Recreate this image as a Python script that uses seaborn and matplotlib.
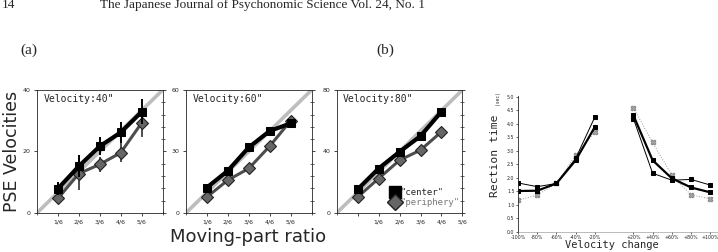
import matplotlib
matplotlib.use('Agg')
import matplotlib.pyplot as plt
import seaborn as sns
from matplotlib.lines import Line2D
from matplotlib.ticker import MultipleLocator, FixedLocator

# (a) PSE velocities vs moving-part ratio
ratio = [1/6, 2/6, 3/6, 4/6, 5/6]
ratio_labels = ['1/6', '2/6', '3/6', '4/6', '5/6']
velocities = [40, 60, 80]
center_40 = [7.9, 15.2, 21.7, 26.2, 32.9]
periph_40 = [4.7, 12.8, 15.8, 19.6, 29.3]
center_40_err = [2.2, 3.5, 3.0, 3.3, 4.0]
periph_40_err = [1.5, 5.5, 2.5, 3.0, 4.6]
center_60 = [12.4, 20.6, 32.0, 40.0, 43.7]
periph_60 = [7.8, 16.0, 21.7, 32.6, 45.0]
center_80 = [15.4, 28.9, 39.8, 50.0, 65.9]
periph_80 = [10.4, 22.4, 34.3, 40.9, 52.8]

# (b) reaction time vs velocity change
change_neg = [-100, -80, -60, -40, -20]
change_pos = [20, 40, 60, 80, 100]
change_labels = ['-100%', '-80%', '-60%', '-40%', '-20%', '+20%', '+40%', '+60%', '+80%', '+100%']
rt_thick_neg = [1.51, 1.52, 1.79, 2.65, 3.89]
rt_thick_pos = [4.32, 2.65, 1.98, 1.64, 1.46]
rt_thin_neg = [1.81, 1.67, 1.79, 2.72, 4.26]
rt_thin_pos = [4.20, 2.17, 1.91, 1.94, 1.73]
rt_gray_neg = [1.17, 1.36, 1.79, 2.84, 3.70]
rt_gray_pos = [4.60, 3.31, 2.10, 1.36, 1.23]

sns.set_style('ticks')
plt.rcParams['font.family'] = ['DejaVu Sans']
mono = 'DejaVu Sans Mono'
serif = 'Liberation Serif'

fig = plt.figure(figsize=(7.18, 2.52), dpi=100)

# header of the journal page (cut at the top, as in the scan)
fig.text(0.003, 0.982, '14', fontsize=9.5, family=serif, va='center')
fig.text(0.366, 0.982, 'The Japanese Journal of Psychonomic Science Vol. 24, No. 1',
         fontsize=9.5, family=serif, va='center', ha='center')
fig.text(0.040, 0.80, '(a)', fontsize=11, family=serif, ha='center', va='center')
fig.text(0.536, 0.80, '(b)', fontsize=11, family=serif, ha='center', va='center')

lefts = [0.0515, 0.259, 0.469]
centers = [center_40, center_60, center_80]
periphs = [periph_40, periph_60, periph_80]
gray = '#4d4d4d'

for i, v in enumerate(velocities):
    ax = fig.add_axes([lefts[i], 0.155, 0.175, 0.488])
    ax.axline((0, 0), slope=v, color='#bdbdbd', lw=2.6, zorder=1)
    if i == 0:
        ax.errorbar(ratio, center_40, yerr=center_40_err, fmt='none',
                    ecolor='black', elinewidth=1.4, capsize=0, zorder=3)
        ax.errorbar(ratio, periph_40, yerr=periph_40_err, fmt='none',
                    ecolor=gray, elinewidth=1.4, capsize=0, zorder=2)
    sns.lineplot(x=ratio, y=periphs[i], ax=ax, color=gray, lw=2.2,
                 marker='D', ms=6, mfc='#666666', mec='#222222', mew=0.8, zorder=2)
    sns.lineplot(x=ratio, y=centers[i], ax=ax, color='black', lw=3,
                 marker='s', ms=6, mfc='black', mec='black', zorder=3)
    ax.set_xlim(0, 1)
    ax.set_ylim(0, v)
    ax.set_yticks([0, v / 2, v])
    ax.set_yticklabels([0, int(v / 2), v])
    ax.yaxis.set_minor_locator(MultipleLocator(v / 10))
    if i < 2:
        ax.set_xticks(ratio)
        ax.set_xticklabels(ratio_labels)
    else:
        # the third panel's labels sit one step to the right
        ax.set_xticks(ratio + [1.0])
        ax.set_xticklabels([''] + ratio_labels)
    ax.xaxis.set_minor_locator(FixedLocator([0, 1]))
    ax.tick_params(which='major', labelsize=4.5, length=2.5, width=0.6,
                   right=True, direction='out', pad=2)
    ax.tick_params(which='minor', left=False, right=True, bottom=True,
                   length=2.5, width=0.5, direction='inout')
    for s in ax.spines.values():
        s.set_linewidth(0.6)
    ax.text(0.05, 0.97, f'Velocity:{v}"', transform=ax.transAxes,
            fontsize=7, family=mono, va='top', ha='left')
    ax.set_xlabel('')
    ax.set_ylabel('')
    if i == 2:
        handles = [Line2D([], [], ls='none', marker='s', ms=8, color='black'),
                   Line2D([], [], ls='none', marker='D', ms=8, mfc='#666666',
                          mec='#222222')]
        leg = ax.legend(handles, ['"center"', '"periphery"'], loc='lower right',
                        bbox_to_anchor=(1.04, -0.02), frameon=False,
                        handlelength=0.8, handletextpad=0.2, labelspacing=0.15,
                        prop={'family': mono, 'size': 6.5})
        leg.get_texts()[1].set_color('#777777')

fig.text(0.017, 0.40, 'PSE Velocities', rotation=90, fontsize=12.5,
         ha='center', va='center')
fig.text(0.346, 0.06, 'Moving-part ratio', fontsize=13, ha='center', va='center')

# (b)
axb = fig.add_axes([0.7214, 0.0806, 0.2786, 0.54])
for xs, ys in [(change_neg, rt_gray_neg), (change_pos, rt_gray_pos)]:
    sns.lineplot(x=xs, y=ys, ax=axb, color='#999999', lw=0.7, ls=':',
                 marker='X', ms=3.5, mfc='#aaaaaa', mec='#888888')
for xs, ys in [(change_neg, rt_thin_neg), (change_pos, rt_thin_pos)]:
    sns.lineplot(x=xs, y=ys, ax=axb, color='black', lw=0.7,
                 marker='s', ms=3, mfc='black', mec='black')
for xs, ys in [(change_neg, rt_thick_neg), (change_pos, rt_thick_pos)]:
    sns.lineplot(x=xs, y=ys, ax=axb, color='black', lw=1.6,
                 marker='s', ms=3, mfc='black', mec='black')
axb.set_xlim(-100, 108)
axb.set_ylim(0, 5.05)
axb.set_xticks(change_neg + change_pos)
axb.set_xticklabels(change_labels)
axb.set_yticks([j * 0.5 for j in range(11)])
axb.set_yticklabels([f'{j * 0.5:.1f}' for j in range(11)])
axb.tick_params(labelsize=3.4, length=1.5, width=0.5, pad=1)
for s in ['top', 'right']:
    axb.spines[s].set_visible(False)
axb.spines['left'].set_linewidth(0.6)
axb.spines['bottom'].set_linewidth(0.4)
axb.spines['bottom'].set_color('#888888')
axb.set_xlabel('')
axb.set_ylabel('')

fig.text(0.690, 0.38, 'Rection time', rotation=90, fontsize=8.2, family=mono,
         ha='center', va='center')
fig.text(0.693, 0.61, '(sec)', rotation=90, fontsize=3.3, family=mono,
         ha='center', va='center')
fig.text(0.852, 0.028, 'Velocity change', fontsize=7.5, family=mono,
         ha='center', va='center')

fig.savefig('out.png', dpi=100)
